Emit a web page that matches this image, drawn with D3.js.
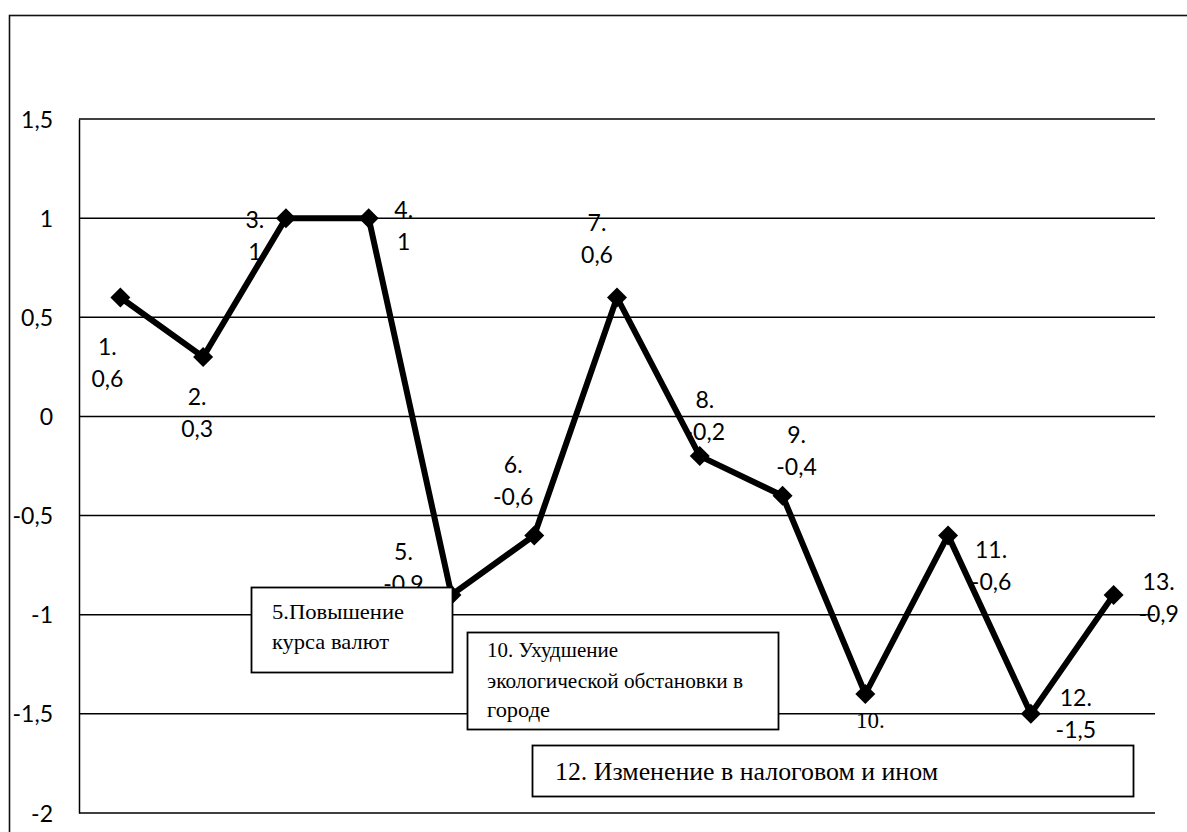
<!DOCTYPE html>
<html>
<head>
<meta charset="utf-8">
<script src="https://cdn.jsdelivr.net/npm/d3@7"></script>
<style>
  html, body { margin: 0; padding: 0; background: #fff; }
  svg { display: block; }
</style>
</head>
<body>
<svg id="chart" width="1187" height="832"></svg>
<script>
// Factor numbers and their scores
const categories = ["1", "2", "3", "4", "5", "6", "7", "8", "9", "10", "11", "12", "13"];
const values = [0.6, 0.3, 1, 1, -0.9, -0.6, 0.6, -0.2, -0.4, -1.4, -0.6, -1.5, -0.9];
const yTicks = [-2, -1.5, -1, -0.5, 0, 0.5, 1, 1.5];
const yDomain = [-2, 1.5];

// Callout texts
const noteLines = [
  ["5.Повышение", "курса валют"],
  ["10. Ухудшение", "экологической обстановки в", "городе"],
  ["12. Изменение в налоговом и ином"]
];

// Data-label placement relative to each point (first line centre)
const labelOffsets = [
  [-13, 50], [-6, 40], [-31, 2], [35, -8], [-48, -43], [-21, -70], [-20, -74],
  [5, -56], [14, -61], [5, 26], [43, 15], [45, -16], [45, -13]
];

// Callout box geometry
const noteBoxes = [
  { x: 251, y: 587, w: 201, h: 85, tx: 272, base: [619, 649], size: 22, len: [132, 117] },
  { x: 467, y: 632, w: 311, h: 97, tx: 487, base: [657, 688, 717], size: 21, len: [131, 256, 63] },
  { x: 532, y: 745, w: 601, h: 51, tx: 555, base: [780], size: 26, len: [383] }
];

const fmt = v => String(v).replace(".", ",");
const labelFont = "Lato, 'Open Sans', sans-serif";
const serifFont = "'Times New Roman', 'Liberation Serif', 'DejaVu Serif', serif";

const svg = d3.select("#chart");
const plot = { left: 79, right: 1155, top: 119, bottom: 813 };

const x = d3.scalePoint().domain(categories).range([plot.left, plot.right]).padding(0.5);
const y = d3.scaleLinear().domain(yDomain).range([plot.bottom, plot.top]);

// Outer chart frame
svg.append("rect")
  .attr("x", 9.5).attr("y", 15.5)
  .attr("width", 1300).attr("height", 1000)
  .attr("fill", "none").attr("stroke", "#111").attr("stroke-width", 1.6);

// Horizontal gridlines
svg.append("g")
  .selectAll("line")
  .data(yTicks)
  .join("line")
  .attr("x1", plot.left).attr("x2", plot.right)
  .attr("y1", d => y(d)).attr("y2", d => y(d))
  .attr("stroke", "#000").attr("stroke-width", 1.5);

// Vertical axis
const yAxis = d3.axisLeft(y).tickValues(yTicks).tickSize(0).tickPadding(26).tickFormat(fmt);
const gy = svg.append("g").attr("transform", `translate(${plot.left},0)`).call(yAxis);
gy.select(".domain").attr("stroke", "#000").attr("stroke-width", 1.5);
gy.selectAll("text")
  .attr("font-family", labelFont)
  .attr("font-size", 23)
  .attr("fill", "#000")
  .attr("dy", "0.35em");

// Data labels: "N." over the value
const labels = svg.append("g")
  .selectAll("text")
  .data(categories)
  .join("text")
  .attr("text-anchor", "middle")
  .style("font-family", d => d === "10" ? serifFont : labelFont)
  .attr("font-size", 23)
  .attr("fill", "#000");
labels.append("tspan")
  .attr("x", (d, i) => x(d) + labelOffsets[i][0])
  .attr("y", (d, i) => y(values[i]) + labelOffsets[i][1] + 8)
  .text(d => d + ".");
labels.append("tspan")
  .attr("x", (d, i) => x(d) + labelOffsets[i][0])
  .attr("y", (d, i) => y(values[i]) + labelOffsets[i][1] + 40)
  .text((d, i) => fmt(values[i]));

// Series line
const line = d3.line().x((d, i) => x(categories[i])).y(d => y(d));
svg.append("path")
  .datum(values)
  .attr("d", line)
  .attr("fill", "none")
  .attr("stroke", "#000")
  .attr("stroke-width", 6)
  .attr("stroke-linejoin", "miter");

// Diamond markers
const r = 10;
svg.append("g")
  .selectAll("path")
  .data(values)
  .join("path")
  .attr("transform", (d, i) => `translate(${x(categories[i])},${y(d)})`)
  .attr("d", `M0,${-r}L${r},0L0,${r}L${-r},0Z`)
  .attr("fill", "#000");

// Callout boxes
const notes = svg.append("g")
  .selectAll("g")
  .data(noteBoxes)
  .join("g");
notes.append("rect")
  .attr("x", d => d.x + 0.5).attr("y", d => d.y + 0.5)
  .attr("width", d => d.w).attr("height", d => d.h)
  .attr("fill", "#fff").attr("stroke", "#000").attr("stroke-width", 1.8);
notes.each(function (d, k) {
  const g = d3.select(this);
  noteLines[k].forEach((t, j) => {
    g.append("text")
      .attr("x", d.tx).attr("y", d.base[j])
      .style("font-family", serifFont)
      .attr("font-size", d.size)
      .attr("fill", "#000")
      .attr("textLength", d.len[j])
      .attr("lengthAdjust", "spacingAndGlyphs")
      .text(t);
  });
});
</script>
</body>
</html>
